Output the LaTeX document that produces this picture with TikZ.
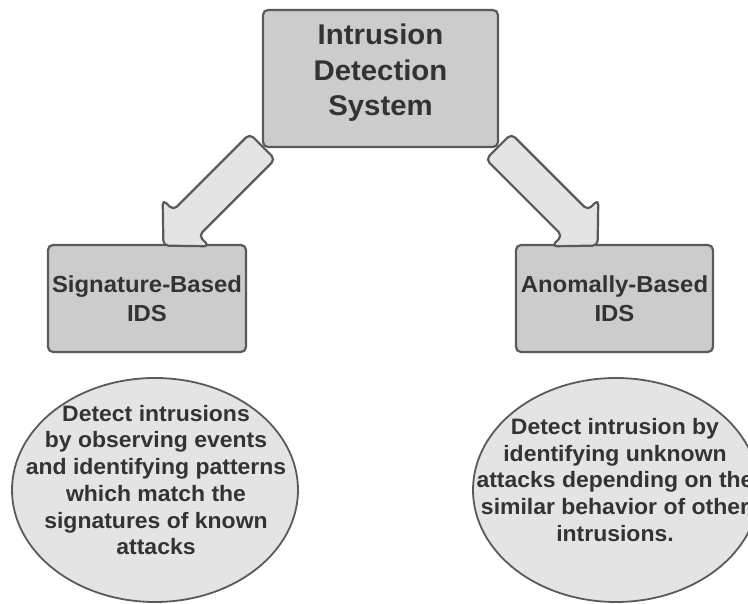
\documentclass[tikz,border=0pt]{standalone}
\usepackage{fontspec}
\setsansfont[FakeStretch=1.03]{Liberation Sans}
\usetikzlibrary{shapes.geometric}
\definecolor{boxfill}{HTML}{CCCCCC}
\definecolor{lightfill}{HTML}{E4E4E4}
\definecolor{edge}{HTML}{5A5A5A}
\definecolor{ink}{HTML}{333333}
\tikzset{
  idsbox/.style={draw=edge, line width=2.2pt, fill=boxfill, rounded corners=5pt,
    text=ink, align=center, inner sep=0pt},
  topfont/.style={font={\sffamily\bfseries\fontsize{28.5}{35.5}\selectfont}},
  boxfont/.style={font={\sffamily\bfseries\fontsize{23.2}{29}\selectfont}},
  notefont/.style={font={\sffamily\bfseries\fontsize{22.3}{26.7}\selectfont}},
  note/.style={draw=edge, line width=1.8pt, fill=lightfill, ellipse,
    minimum width=286pt, minimum height=224pt, inner sep=0pt},
  notetext/.style={text=ink, align=center, notefont},
  blockarrow/.style={draw=edge, line width=2.2pt, fill=lightfill, rounded corners=5pt, line join=round}
}
\begin{document}
\begin{tikzpicture}[x=1pt, y=1pt]
  \useasboundingbox (0,0) rectangle (748,604);
  \clip (0,0) rectangle (748,604);

  % main boxes
  \node[idsbox, minimum width=235pt, minimum height=137pt] (ids) at (380.5,525.5) {};
  \node[text=ink, align=center, topfont] (idstext) at (380.5,531) {Intrusion\\Detection\\System};

  \node[idsbox, boxfont, minimum width=198pt, minimum height=107pt] (sig) at (147,305.5)
    {Signature-Based\\IDS};
  \node[idsbox, boxfont, minimum width=197pt, minimum height=107pt] (anom) at (614.5,305.5)
    {Anomally-Based\\IDS};

  % description ellipses
  \node[note] (sigNote) at (155,114) {};
  \node[notetext] (sigText) at (156,124)
    {Detect intrusions\\by observing events\\and identifying patterns\\which match the\\signatures of known\\attacks};
  \node[note] (anomNote) at (616,114) {};
  \node[notetext] (anomText) at (615,124)
    {Detect intrusion by\\identifying unknown\\attacks depending on the\\similar behavior of other\\intrusions.};

  % block arrows from the top box down to each IDS box
  \coordinate (leftTail) at ([shift={(0.5,1.5)}]ids.south west);
  \coordinate (rightTail) at ([shift={(-0.5,1.5)}]ids.south east);
  \begin{scope}[shift={(leftTail)}, rotate=225]
    \draw[blockarrow] (0,-18) -- (108,-18) -- (108,-33) -- (140,0) -- (108,33) -- (108,18) -- (0,18) -- cycle;
  \end{scope}
  \begin{scope}[shift={(rightTail)}, rotate=-45]
    \draw[blockarrow] (0,-18) -- (108,-18) -- (108,-33) -- (140,0) -- (108,33) -- (108,18) -- (0,18) -- cycle;
  \end{scope}
\end{tikzpicture}
\end{document}
